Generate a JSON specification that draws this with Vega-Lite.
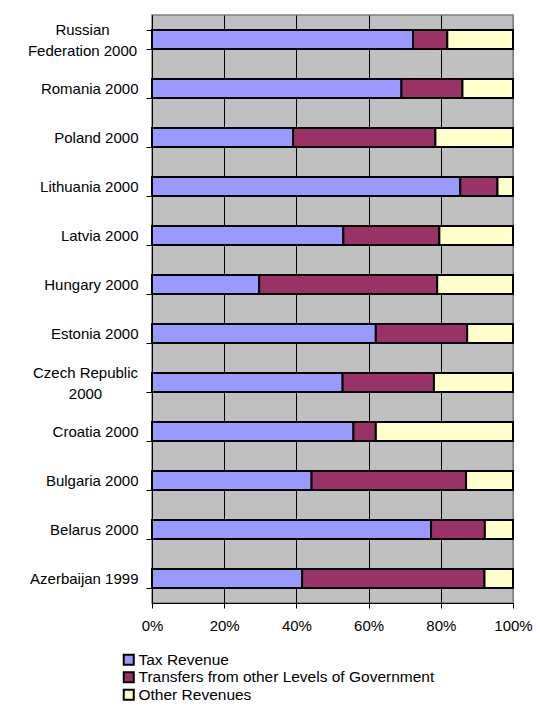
{
  "$schema": "https://vega.github.io/schema/vega-lite/v6.json",
  "width": 361,
  "height": 588,
  "autosize": {"type": "none"},
  "padding": {"left": 152, "top": 15, "right": 27, "bottom": 104},
  "background": "white",
  "config": {
    "font": "Liberation Sans",
    "view": {"fill": "#C0C0C0", "stroke": "#808080", "strokeWidth": 1.5},
    "axis": {
      "labelFont": "Liberation Sans",
      "labelFontSize": 15,
      "labelColor": "#000000",
      "domainColor": "#000000",
      "tickColor": "#000000",
      "title": null
    },
    "legend": {
      "labelFont": "Liberation Sans",
      "labelFontSize": 15.5,
      "labelColor": "#000000"
    }
  },
  "data": {
    "values": [
      {"country": "Russian Federation 2000", "type": "Tax Revenue", "share": 72.3},
      {"country": "Russian Federation 2000", "type": "Transfers from other Levels of Government", "share": 9.5},
      {"country": "Russian Federation 2000", "type": "Other Revenues", "share": 18.2},
      {"country": "Romania 2000", "type": "Tax Revenue", "share": 69.1},
      {"country": "Romania 2000", "type": "Transfers from other Levels of Government", "share": 16.9},
      {"country": "Romania 2000", "type": "Other Revenues", "share": 14.0},
      {"country": "Poland 2000", "type": "Tax Revenue", "share": 39.1},
      {"country": "Poland 2000", "type": "Transfers from other Levels of Government", "share": 39.4},
      {"country": "Poland 2000", "type": "Other Revenues", "share": 21.5},
      {"country": "Lithuania 2000", "type": "Tax Revenue", "share": 85.4},
      {"country": "Lithuania 2000", "type": "Transfers from other Levels of Government", "share": 10.3},
      {"country": "Lithuania 2000", "type": "Other Revenues", "share": 4.3},
      {"country": "Latvia 2000", "type": "Tax Revenue", "share": 53.0},
      {"country": "Latvia 2000", "type": "Transfers from other Levels of Government", "share": 26.6},
      {"country": "Latvia 2000", "type": "Other Revenues", "share": 20.4},
      {"country": "Hungary 2000", "type": "Tax Revenue", "share": 29.7},
      {"country": "Hungary 2000", "type": "Transfers from other Levels of Government", "share": 49.3},
      {"country": "Hungary 2000", "type": "Other Revenues", "share": 21.0},
      {"country": "Estonia 2000", "type": "Tax Revenue", "share": 62.0},
      {"country": "Estonia 2000", "type": "Transfers from other Levels of Government", "share": 25.3},
      {"country": "Estonia 2000", "type": "Other Revenues", "share": 12.7},
      {"country": "Czech Republic 2000", "type": "Tax Revenue", "share": 52.8},
      {"country": "Czech Republic 2000", "type": "Transfers from other Levels of Government", "share": 25.3},
      {"country": "Czech Republic 2000", "type": "Other Revenues", "share": 21.9},
      {"country": "Croatia 2000", "type": "Tax Revenue", "share": 55.8},
      {"country": "Croatia 2000", "type": "Transfers from other Levels of Government", "share": 6.2},
      {"country": "Croatia 2000", "type": "Other Revenues", "share": 38.0},
      {"country": "Bulgaria 2000", "type": "Tax Revenue", "share": 44.2},
      {"country": "Bulgaria 2000", "type": "Transfers from other Levels of Government", "share": 42.8},
      {"country": "Bulgaria 2000", "type": "Other Revenues", "share": 13.0},
      {"country": "Belarus 2000", "type": "Tax Revenue", "share": 77.3},
      {"country": "Belarus 2000", "type": "Transfers from other Levels of Government", "share": 14.9},
      {"country": "Belarus 2000", "type": "Other Revenues", "share": 7.8},
      {"country": "Azerbaijan 1999", "type": "Tax Revenue", "share": 41.6},
      {"country": "Azerbaijan 1999", "type": "Transfers from other Levels of Government", "share": 50.5},
      {"country": "Azerbaijan 1999", "type": "Other Revenues", "share": 7.9}
    ]
  },
  "transform": [
    {
      "calculate": "indexof(['Tax Revenue', 'Transfers from other Levels of Government', 'Other Revenues'], datum.type)",
      "as": "stackRank"
    }
  ],
  "mark": {"type": "bar", "stroke": "#000000", "strokeWidth": 2},
  "encoding": {
    "y": {
      "field": "country",
      "type": "nominal",
      "sort": [
        "Russian Federation 2000", "Romania 2000", "Poland 2000", "Lithuania 2000",
        "Latvia 2000", "Hungary 2000", "Estonia 2000", "Czech Republic 2000",
        "Croatia 2000", "Bulgaria 2000", "Belarus 2000", "Azerbaijan 1999"
      ],
      "scale": {"paddingInner": 0.61, "paddingOuter": 0.305},
      "axis": {
        "tickBand": "extent",
        "tickSize": 6,
        "labelPadding": {
          "condition": [
            {"test": "datum.value == 'Russian Federation 2000'", "value": 64},
            {"test": "datum.value == 'Czech Republic 2000'", "value": 61}
          ],
          "value": 8
        },
        "labelAlign": {
          "condition": {"test": "datum.value == 'Russian Federation 2000' || datum.value == 'Czech Republic 2000'", "value": "center"},
          "value": "right"
        },
        "labelOffset": {
          "condition": {"test": "datum.value == 'Russian Federation 2000' || datum.value == 'Czech Republic 2000'", "value": -10.5},
          "value": 0
        },
        "labelLineHeight": 21,
        "labelLimit": 200,
        "labelExpr": "datum.value == 'Russian Federation 2000' ? ['Russian', 'Federation 2000'] : datum.value == 'Czech Republic 2000' ? ['Czech Republic', '2000'] : datum.value",
        "grid": false
      }
    },
    "x": {
      "field": "share",
      "type": "quantitative",
      "stack": "zero",
      "scale": {"domain": [0, 100], "nice": false},
      "axis": {
        "values": [0, 20, 40, 60, 80, 100],
        "labelExpr": "datum.value + '%'",
        "labelFlush": false,
        "tickSize": 5,
        "labelPadding": 10,
        "grid": true,
        "gridColor": {
          "condition": {"test": "datum.value == 100", "value": "#808080"},
          "value": "#000000"
        },
        "gridWidth": 1
      }
    },
    "order": {"field": "stackRank", "type": "quantitative", "sort": "ascending"},
    "color": {
      "field": "type",
      "type": "nominal",
      "sort": ["Tax Revenue", "Transfers from other Levels of Government", "Other Revenues"],
      "scale": {
        "domain": ["Tax Revenue", "Transfers from other Levels of Government", "Other Revenues"],
        "range": ["#9999FF", "#993366", "#FFFFCC"]
      },
      "legend": {
        "title": null,
        "orient": "none",
        "legendX": -31,
        "legendY": 637,
        "direction": "vertical",
        "padding": 0,
        "symbolType": "square",
        "symbolSize": 100,
        "symbolStrokeColor": "#000000",
        "symbolStrokeWidth": 2,
        "symbolOpacity": 1,
        "labelOffset": 2,
        "labelLimit": 400,
        "rowPadding": -1.5
      }
    }
  }
}
